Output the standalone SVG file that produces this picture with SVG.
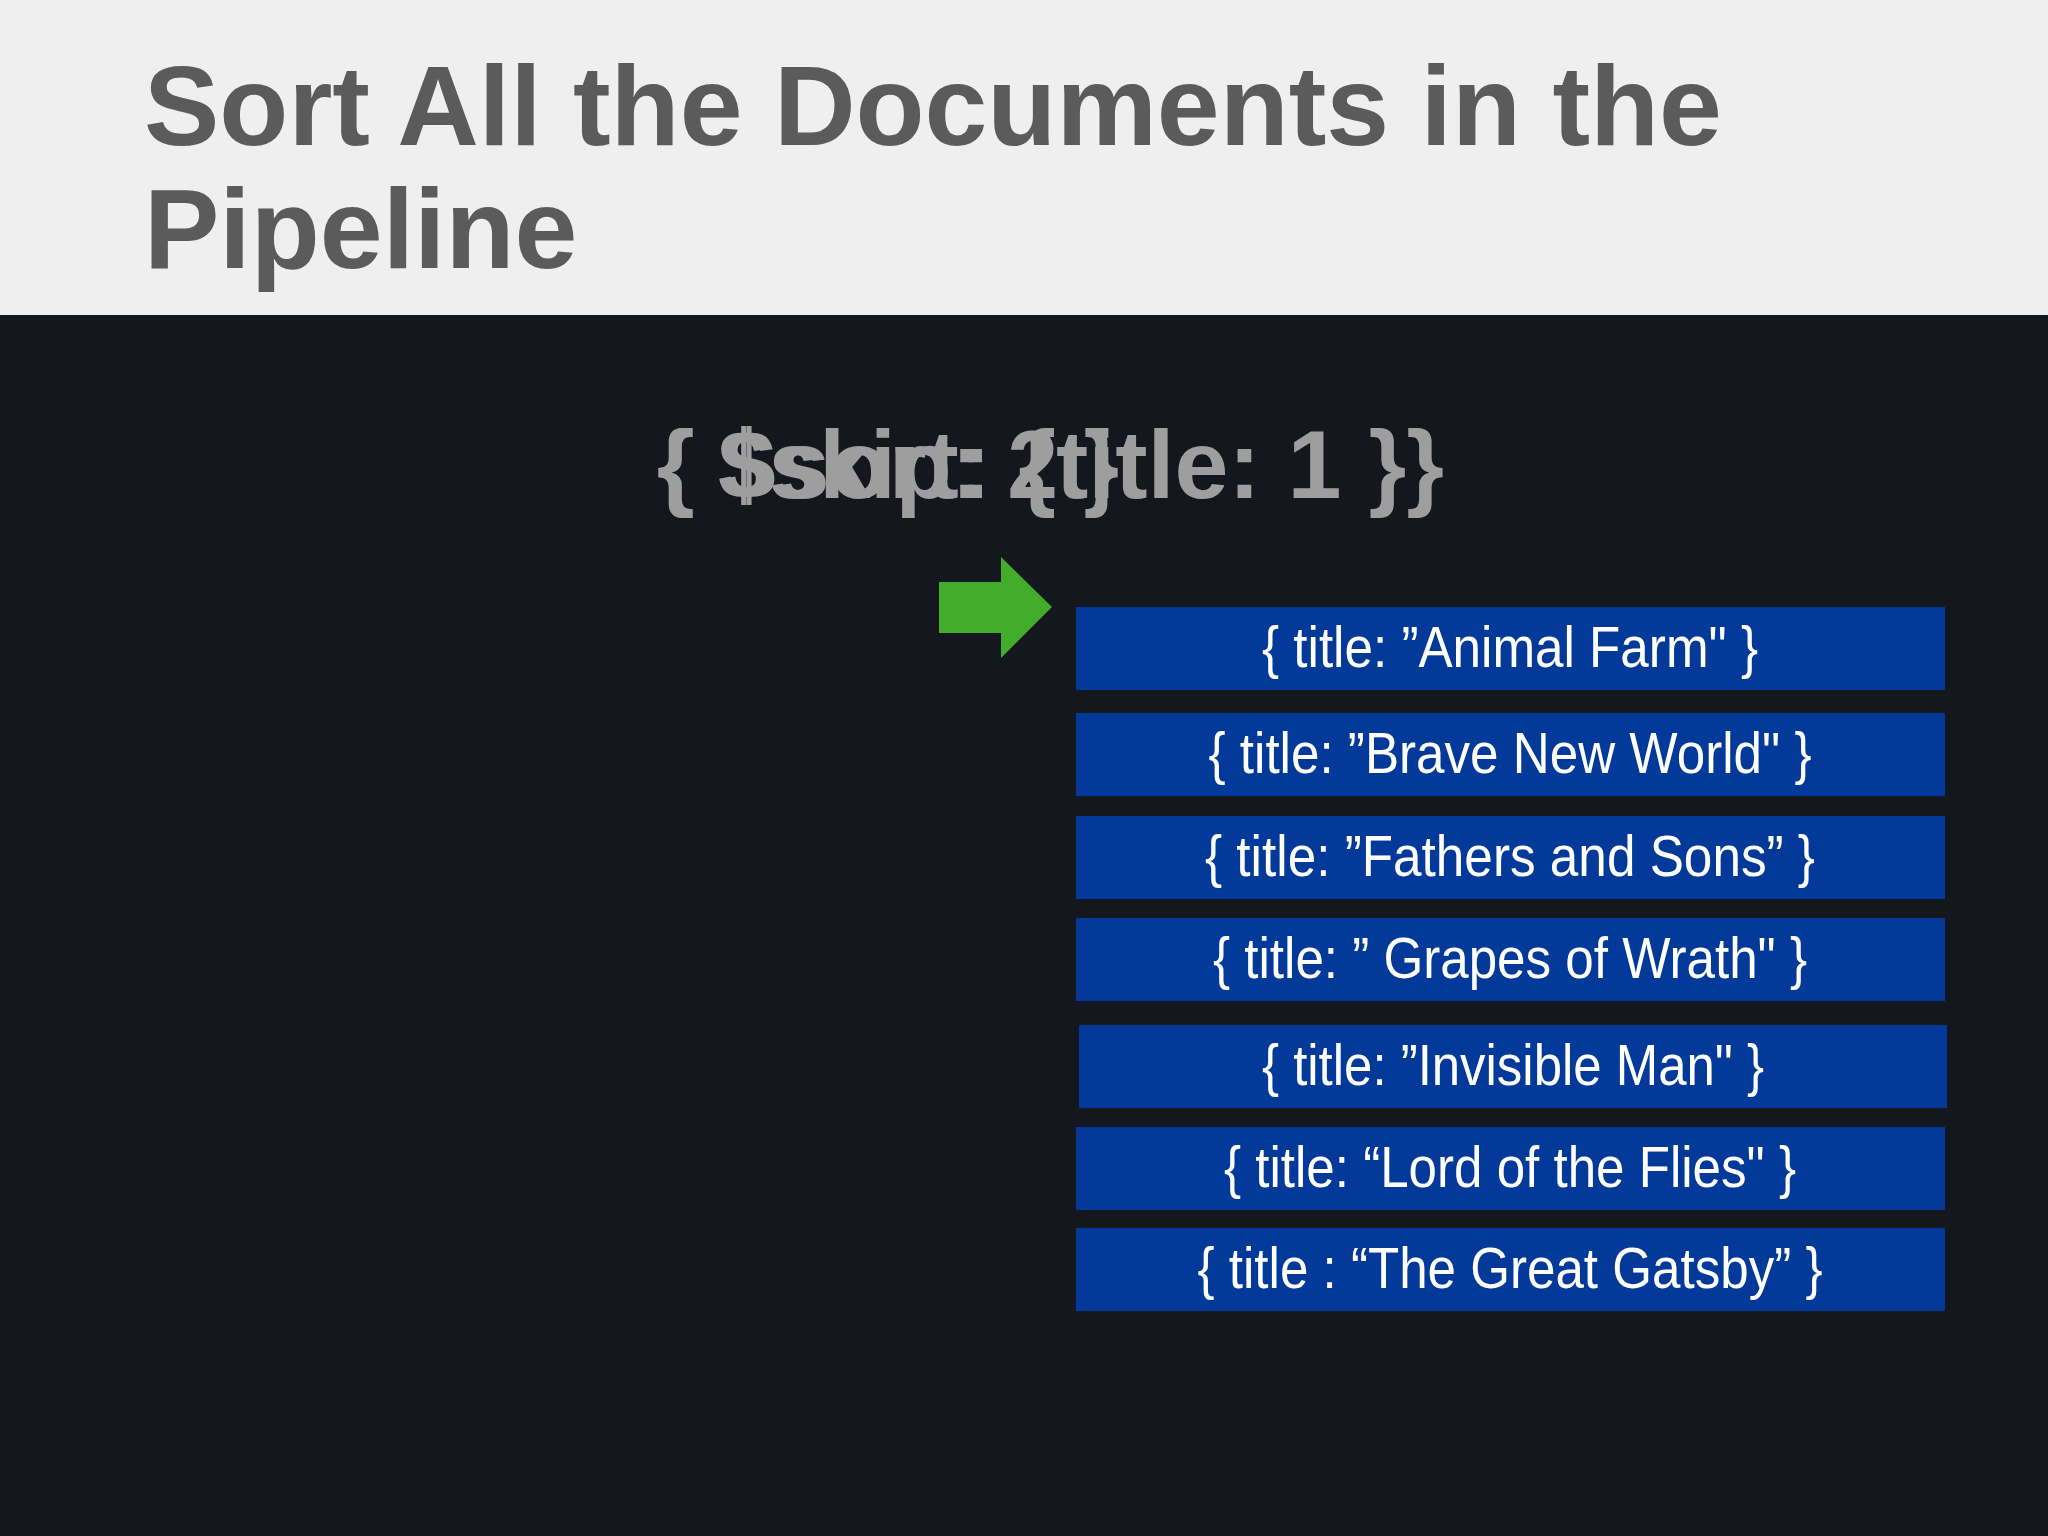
<svg xmlns="http://www.w3.org/2000/svg" width="2048" height="1536" viewBox="0 0 2048 1536">
  <style>
    .title { font-family: "Liberation Sans", Arial, sans-serif; font-weight: bold; font-size: 113px; fill: #5b5b5b; }
    .stage { font-family: "Liberation Sans", Arial, sans-serif; font-weight: bold; font-size: 96px; fill: #9e9e9e; }
    .doc { fill: #033a9a; }
    .doctext { font-family: "Liberation Sans", Arial, sans-serif; font-size: 58px; fill: #ffffff; text-anchor: middle; }
  </style>
  <rect x="0" y="0" width="2048" height="1536" fill="#15171e"/>
  <g id="header">
    <rect x="0" y="0" width="2048" height="315" fill="#efefef"/>
    <text class="title" x="144" y="145">Sort All the Documents in the</text>
    <text class="title" x="144" y="268">Pipeline</text>
  </g>
  <g id="stages">
    <text class="stage" x="657" y="498" textLength="462" lengthAdjust="spacingAndGlyphs">{ $skip: 2 }</text>
    <text class="stage" x="657" y="498" textLength="787" lengthAdjust="spacingAndGlyphs">{ $sort: {title: 1 }}</text>
  </g>
  <g id="connectors">
    <polygon points="939,582 1001,582 1001,557 1052,607 1001,658 1001,633 939,633" fill="#41ad2b"/>
  </g>
  <g id="doc1">
    <rect class="doc" x="1076" y="607" width="869" height="83"/>
    <text class="doctext" x="1510" y="667" textLength="496" lengthAdjust="spacingAndGlyphs">{ title: ”Animal Farm" }</text>
  </g>
  <g id="doc2">
    <rect class="doc" x="1076" y="713" width="869" height="83"/>
    <text class="doctext" x="1510" y="773" textLength="603" lengthAdjust="spacingAndGlyphs">{ title: ”Brave New World" }</text>
  </g>
  <g id="doc3">
    <rect class="doc" x="1076" y="816" width="869" height="83"/>
    <text class="doctext" x="1510" y="876" textLength="610" lengthAdjust="spacingAndGlyphs">{ title: ”Fathers and Sons” }</text>
  </g>
  <g id="doc4">
    <rect class="doc" x="1076" y="918" width="869" height="83"/>
    <text class="doctext" x="1510" y="978" textLength="594" lengthAdjust="spacingAndGlyphs">{ title: ” Grapes of Wrath" }</text>
  </g>
  <g id="doc5">
    <rect class="doc" x="1079" y="1025" width="868" height="83"/>
    <text class="doctext" x="1513" y="1085" textLength="502" lengthAdjust="spacingAndGlyphs">{ title: ”Invisible Man" }</text>
  </g>
  <g id="doc6">
    <rect class="doc" x="1076" y="1127" width="869" height="83"/>
    <text class="doctext" x="1510" y="1187" textLength="572" lengthAdjust="spacingAndGlyphs">{ title: “Lord of the Flies" }</text>
  </g>
  <g id="doc7">
    <rect class="doc" x="1076" y="1228" width="869" height="83"/>
    <text class="doctext" x="1510" y="1288" textLength="625" lengthAdjust="spacingAndGlyphs">{ title : “The Great Gatsby” }</text>
  </g>
</svg>
